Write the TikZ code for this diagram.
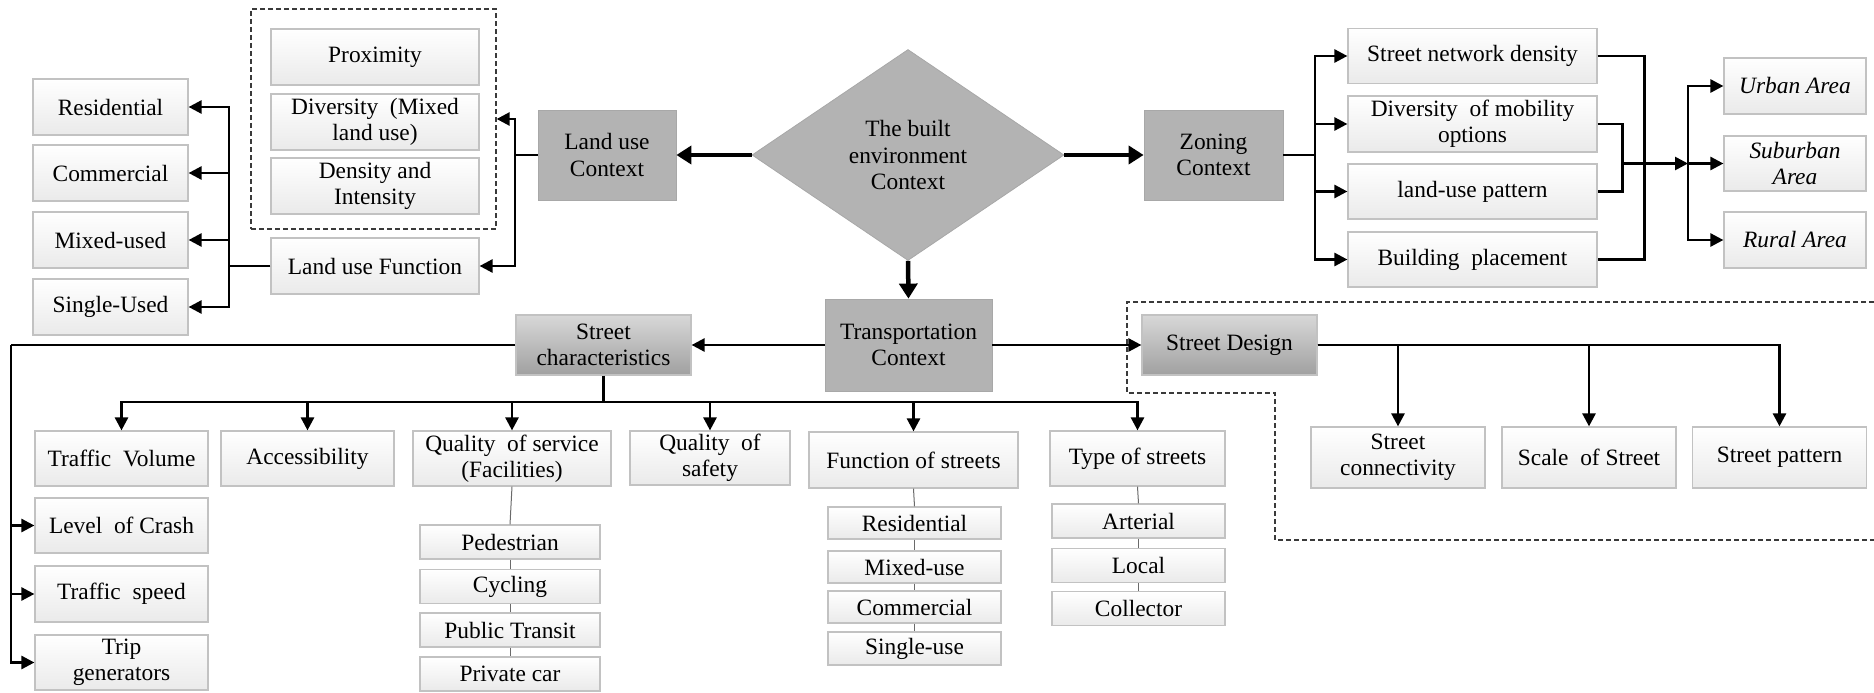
\documentclass[tikz,border=0pt]{standalone}
\usepackage{fontspec}
\setmainfont{Liberation Serif}
\usetikzlibrary{shapes.geometric,arrows.meta}

\definecolor{ctxgray}{HTML}{B3B3B3}
\definecolor{ctxedge}{HTML}{A8A8A8}
\definecolor{boxbot}{HTML}{EAEAEA}
\definecolor{boxedge}{HTML}{C2C2C2}
\definecolor{grtop}{HTML}{D8D8D8}
\definecolor{grbot}{HTML}{A0A0A0}
\definecolor{dashgray}{HTML}{3A3A3A}
\definecolor{subline}{HTML}{6A6A6A}

\newcommand{\dfont}{\fontsize{23.4}{26.4}\selectfont}

\begin{document}
\begin{tikzpicture}[x=1pt,y=-1pt,
  every node/.style={font=\dfont, align=center, inner sep=1pt},
  wbox/.style 2 args={draw=boxedge, line width=1.2pt, top color=white, bottom color=boxbot,
    minimum width=#1pt, minimum height=#2pt},
  ctxbox/.style 2 args={draw=ctxedge, line width=0.8pt, fill=ctxgray,
    minimum width=#1pt, minimum height=#2pt},
  gbox/.style 2 args={draw=boxedge, line width=1.2pt, top color=grtop, bottom color=grbot,
    minimum width=#1pt, minimum height=#2pt},
  dashbox/.style={draw=dashgray, line width=1.3pt, dash pattern=on 5pt off 3pt},
  link/.style={line width=2.6pt},
  arr/.style={line width=2.6pt, -{Triangle[length=13pt,width=13pt]}},
  bigarr/.style={line width=4.5pt, -{Triangle[length=15pt,width=18pt]}},
  sublink/.style={line width=1pt, draw=subline}
]
\useasboundingbox (0,0) rectangle (1874,693);

% ---------- central diamond and the three contexts ----------
\node[diamond, fill=ctxgray, draw=ctxedge, line width=0.8pt, inner sep=0pt,
      minimum width=312pt, minimum height=211pt] (bec) at (908,155)
      {The built\\environment\\Context};
\node[ctxbox={138}{90}] (luc) at (607,155) {Land use\\Context};
\node[ctxbox={139}{90}] (zon) at (1213.5,155) {Zoning\\Context};
\node[ctxbox={167}{92}] (trn) at (908.5,345) {Transportation\\Context};

\draw[bigarr] (bec.west) -- (luc.east);
\draw[bigarr] (bec.east) -- (zon.west);
\draw[bigarr] (bec.south) -- (trn.north);

% ---------- land use ----------
\node[wbox={208}{56}] (prox) at (375,57) {Proximity};
\node[wbox={208}{56}] (divr) at (375,122) {Diversity\ \ (Mixed\\land use)};
\node[wbox={208}{56}] (dens) at (375,186) {Density and\\Intensity};
\node[dashbox, minimum width=245pt, minimum height=220pt] (lubox) at (373.5,119) {};
\node[wbox={208}{56}] (luf) at (375,266) {Land use Function};

\node[wbox={155}{56}] (res) at (110.5,107) {Residential};
\node[wbox={155}{56}] (com) at (110.5,173) {Commercial};
\node[wbox={155}{56}] (mix) at (110.5,240) {Mixed-used};
\node[wbox={155}{56}] (sgl) at (110.5,307) {Single-Used};

\coordinate (luj) at (515,155);
\draw[link] (luc.west) -- (luj);
\draw[arr] (luj) |- (lubox.east);
\draw[arr] (luj) |- (luf.east);

\coordinate (lfj) at (229,266);
\draw[link] (luf.west) -- (lfj);
\foreach \n in {res,com,mix,sgl} \draw[arr] (lfj) |- (\n.east);

% ---------- zoning ----------
\node[wbox={249}{55}] (snd) at (1472.5,56) {Street network density};
\node[wbox={249}{56}] (dmo) at (1472.5,124) {Diversity\ \ of mobility\\options};
\node[wbox={249}{55}] (lup) at (1472.5,191.5) {land-use pattern};
\node[wbox={249}{55}] (bpl) at (1472.5,259.5) {Building\ \ placement};

\node[wbox={142}{56}, font=\dfont\itshape] (urb) at (1795,86) {Urban Area};
\node[wbox={142}{55}, font=\dfont\itshape] (sub) at (1795,163.5) {Suburban\\Area};
\node[wbox={142}{56}, font=\dfont\itshape] (rur) at (1795,240) {Rural Area};

\coordinate (zj) at (1315,155);
\draw[link] (zon.east) -- (zj);
\foreach \n in {snd,dmo,lup,bpl} \draw[arr] (zj) |- (\n.west);

\draw[link] (snd.east) -- ++(47,0) |- (bpl.east);
\draw[link] (dmo.east) -- ++(25,0) |- (lup.east);
\coordinate (mj) at (1622,163.5);
\coordinate (aj) at (1688,163.5);
\draw[arr] (mj) -- (aj);
\draw[arr] (aj) -- (sub.west);
\draw[arr] (aj) |- (urb.west);
\draw[arr] (aj) |- (rur.west);

% ---------- transportation ----------
\node[gbox={175}{60}] (stc) at (603.5,345) {Street\\characteristics};
\node[gbox={175}{60}] (sdn) at (1229.5,345) {Street Design};

\draw[arr] (trn.west) -- (stc.east);
\draw[arr] (trn.east) -- (sdn.west);

% street characteristics
\node[wbox={173}{55}] (tvol) at (121.5,458.5) {Traffic\ \ Volume};
\node[wbox={173}{55}] (acc) at (307.5,458.5) {Accessibility};
\node[wbox={198}{55}] (qos) at (512,458.5) {Quality\ \ of service\\(Facilities)};
\node[wbox={160}{54}] (qsf) at (710,458) {Quality\ \ of\\safety};
\node[wbox={209}{56}] (fos) at (913.5,460) {Function of streets};
\node[wbox={175}{55}] (tos) at (1137.5,458.5) {Type of streets};

\node[wbox={173}{55}] (lcr) at (121.5,525.5) {Level\ \ of Crash};
\node[wbox={173}{56}] (tsp) at (121.5,594) {Traffic\ \ speed};
\node[wbox={173}{55}] (tgen) at (121.5,662.5) {Trip\\generators};

\coordinate (sl) at (11,345);
\draw[link] (stc.west) -- (sl);
\foreach \n in {lcr,tsp,tgen} \draw[arr] (sl) |- (\n.west);

\coordinate (bus) at (603.5,402);
\draw[link] (stc.south) -- (bus);
\foreach \n in {tvol,acc,qos,qsf,fos,tos} \draw[arr] (bus) -| (\n.north);

% facilities
\node[wbox={180}{34}] (ped) at (510,542) {Pedestrian};
\node[wbox={180}{34}] (cyc) at (510,586.5) {Cycling};
\node[wbox={180}{34}] (ptr) at (510,630) {Public Transit};
\node[wbox={180}{34}] (pcar) at (510,674) {Private car};
\draw[sublink] (qos.south) -- (ped.north);
\draw[sublink] (ped.south) -- (cyc.north);
\draw[sublink] (cyc.south) -- (ptr.north);
\draw[sublink] (ptr.south) -- (pcar.north);

% street functions
\node[wbox={173}{32}] (fres) at (914.5,523) {Residential};
\node[wbox={173}{32}] (fmix) at (914.5,567) {Mixed-use};
\node[wbox={173}{32}] (fcom) at (914.5,607) {Commercial};
\node[wbox={173}{33}] (fsgl) at (914.5,648.5) {Single-use};
\draw[sublink] (fos.south) -- (fres.north);
\draw[sublink] (fres.south) -- (fmix.north);
\draw[sublink] (fmix.south) -- (fcom.north);
\draw[sublink] (fcom.south) -- (fsgl.north);

% street types
\node[wbox={173}{34}] (tart) at (1138.5,521) {Arterial};
\node[wbox={173}{34}] (tloc) at (1138.5,565.5) {Local};
\node[wbox={173}{34}] (tcol) at (1138.5,608.5) {Collector};
\draw[sublink] (tos.south) -- (tart.north);
\draw[sublink] (tart.south) -- (tloc.north);
\draw[sublink] (tloc.south) -- (tcol.north);

% street design
\node[wbox={174}{61}] (scon) at (1398,457.5) {Street\\connectivity};
\node[wbox={174}{61}] (sscl) at (1589,457.5) {Scale\ \ of Street};
\node[wbox={174}{61}] (spat) at (1779.5,457.5) {Street pattern};
\foreach \n in {scon,sscl,spat} \draw[arr] (sdn.east) -| (\n.north);

\draw[dashbox] (1874,302) -- (1127,302) -- (1127,393) -- (1275,393)
  -- (1275,540) -- (1874,540);
\end{tikzpicture}
\end{document}
